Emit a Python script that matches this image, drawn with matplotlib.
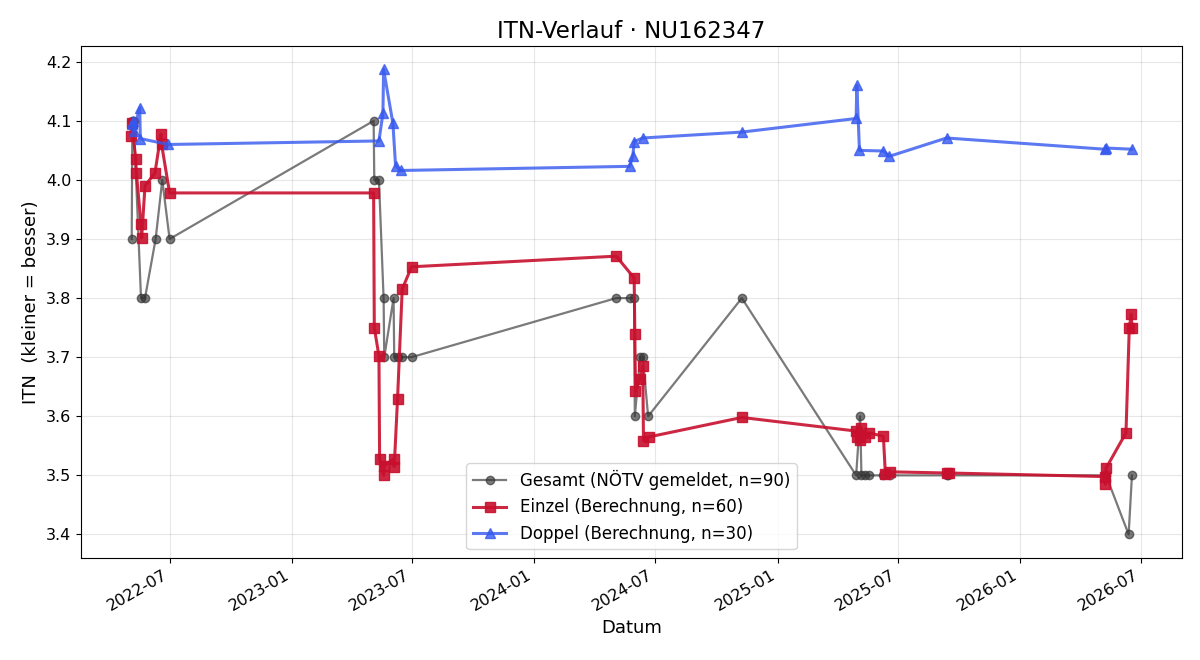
import pandas as pd
import matplotlib
matplotlib.use("Agg")
from matplotlib import pyplot as plt
import matplotlib.dates as mdates

# Gesamt (NÖTV gemeldet) - values as reported, rounded to 0.1
gesamt_dates = ["2022-05-05", "2022-05-06", "2022-05-08", "2022-05-19", "2022-05-25",
                "2022-06-10", "2022-06-20", "2022-07-01",
                "2023-05-04", "2023-05-05", "2023-05-12", "2023-05-19", "2023-05-20",
                "2023-06-03", "2023-06-04", "2023-06-09", "2023-06-16", "2023-06-30",
                "2024-05-03", "2024-05-23", "2024-05-30", "2024-05-31", "2024-06-08",
                "2024-06-12", "2024-06-20", "2024-11-08",
                "2025-04-29", "2025-05-05", "2025-05-07", "2025-05-13", "2025-05-19",
                "2025-06-09", "2025-06-19", "2025-09-12", "2025-09-14",
                "2026-05-08", "2026-05-10", "2026-06-13", "2026-06-18"]
gesamt_itn = [3.9, 4.1, 4.1, 3.8, 3.8,
              3.9, 4.0, 3.9,
              4.1, 4.0, 4.0, 3.8, 3.7,
              3.8, 3.7, 3.7, 3.7, 3.7,
              3.8, 3.8, 3.8, 3.6, 3.7,
              3.7, 3.6, 3.8,
              3.5, 3.6, 3.5, 3.5, 3.5,
              3.5, 3.5, 3.5, 3.5,
              3.5, 3.5, 3.4, 3.5]

# Einzel (Berechnung)
einzel_dates = ["2022-05-04", "2022-05-05", "2022-05-11", "2022-05-12", "2022-05-19",
                "2022-05-20", "2022-05-25", "2022-06-09", "2022-06-18", "2022-06-19",
                "2022-07-01",
                "2023-05-04", "2023-05-05", "2023-05-12", "2023-05-13", "2023-05-19",
                "2023-05-20", "2023-06-03", "2023-06-04", "2023-06-09", "2023-06-16",
                "2023-06-30",
                "2024-05-03", "2024-05-30", "2024-05-31", "2024-06-01", "2024-06-08",
                "2024-06-12", "2024-06-13", "2024-06-21", "2024-11-08",
                "2025-04-29", "2025-04-30", "2025-05-05", "2025-05-07", "2025-05-13",
                "2025-05-19", "2025-06-09", "2025-06-12", "2025-06-19", "2025-09-12",
                "2025-09-16",
                "2026-05-08", "2026-05-09", "2026-05-10", "2026-06-09", "2026-06-14",
                "2026-06-17", "2026-06-18"]
einzel_itn = [4.075, 4.097, 4.036, 4.012, 3.925,
              3.902, 3.990, 4.012, 4.078, 4.060,
              3.978,
              3.978, 3.750, 3.702, 3.528, 3.500,
              3.516, 3.528, 3.515, 3.630, 3.815,
              3.853,
              3.871, 3.834, 3.740, 3.643, 3.663,
              3.685, 3.559, 3.565, 3.598,
              3.575, 3.565, 3.560, 3.580, 3.565,
              3.572, 3.566, 3.502, 3.506, 3.504,
              3.504,
              3.498, 3.485, 3.512, 3.572, 3.750,
              3.773, 3.749]

# Doppel (Berechnung)
doppel_dates = ["2022-05-05", "2022-05-07", "2022-05-08", "2022-05-17", "2022-05-18",
                "2022-06-29",
                "2023-05-12", "2023-05-18", "2023-05-19", "2023-06-02", "2023-06-06",
                "2023-06-14",
                "2024-05-23", "2024-05-28", "2024-05-30", "2024-06-12", "2024-11-08",
                "2025-04-29", "2025-04-30", "2025-05-04", "2025-06-09", "2025-06-18",
                "2025-09-12",
                "2026-05-08", "2026-05-10", "2026-06-18"]
doppel_itn = [4.095, 4.100, 4.083, 4.122, 4.070,
              4.060,
              4.066, 4.113, 4.187, 4.096, 4.024,
              4.016,
              4.023, 4.040, 4.065, 4.071, 4.081,
              4.104, 4.160, 4.050, 4.049, 4.040,
              4.071,
              4.052, 4.054, 4.052]

fig, ax = plt.subplots(figsize=(12, 6.6), dpi=100)

ax.plot(pd.to_datetime(gesamt_dates), gesamt_itn, color="#333333", alpha=0.65,
        linewidth=1.6, marker="o", markersize=6,
        label="Gesamt (NÖTV gemeldet, n=90)")
ax.plot(pd.to_datetime(einzel_dates), einzel_itn, color="#c8102e", alpha=0.9,
        linewidth=2.2, marker="s", markersize=7,
        label="Einzel (Berechnung, n=60)")
ax.plot(pd.to_datetime(doppel_dates), doppel_itn, color="#3558ee", alpha=0.8,
        linewidth=2.2, marker="^", markersize=7,
        label="Doppel (Berechnung, n=30)")

ax.set_title("ITN-Verlauf · NU162347", fontsize=16.5)
ax.set_xlabel("Datum", fontsize=13)
ax.set_ylabel("ITN  (kleiner = besser)", fontsize=13)
ax.tick_params(labelsize=11.5)
ax.grid(True, alpha=0.3)
ax.xaxis.set_major_locator(mdates.MonthLocator(bymonth=[1, 7]))
ax.xaxis.set_major_formatter(mdates.DateFormatter("%Y-%m"))
fig.autofmt_xdate()
ax.legend(loc="lower center", fontsize=12)

fig.subplots_adjust(left=0.0675, right=0.985, top=0.93, bottom=0.155)
fig.savefig("out.png", dpi=100)
